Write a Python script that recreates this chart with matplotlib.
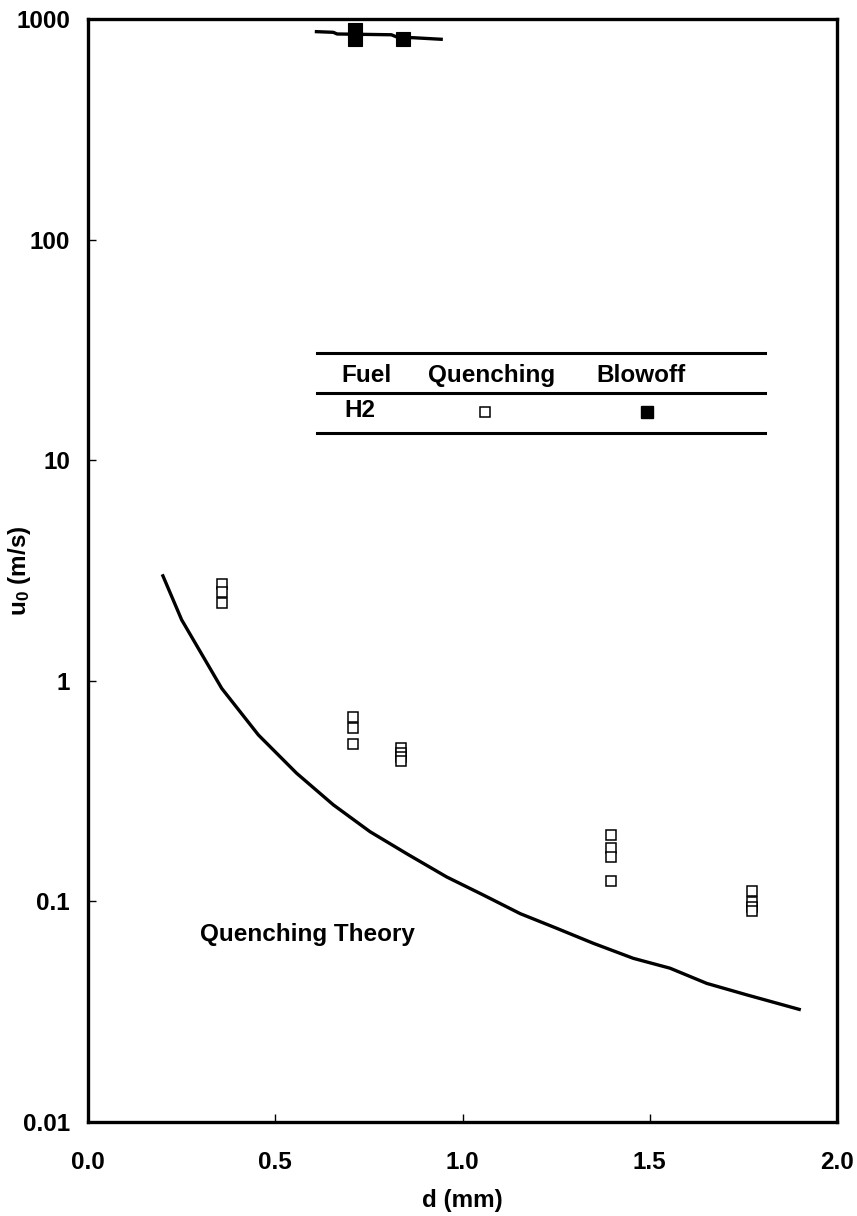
import numpy as np
import matplotlib
matplotlib.use('Agg')
import matplotlib.pyplot as plt

plt.rcParams['font.family'] = ['Liberation Sans', 'DejaVu Sans']
plt.rcParams['font.weight'] = 'bold'
plt.rcParams['mathtext.fontset'] = 'custom'
plt.rcParams['mathtext.rm'] = 'Liberation Sans:bold'
plt.rcParams['mathtext.it'] = 'Liberation Sans:bold'
plt.rcParams['mathtext.bf'] = 'Liberation Sans:bold'

FS = 17.5

# quenching theory curve
theory_d = [0.20, 0.25, 0.357, 0.455, 0.557, 0.655, 0.753, 0.855, 0.958, 1.055,
            1.154, 1.25, 1.349, 1.456, 1.554, 1.652, 1.759, 1.899]
theory_u = [2.99, 1.89, 0.924, 0.568, 0.381, 0.274, 0.207, 0.163, 0.129, 0.107,
            0.088, 0.0757, 0.0646, 0.0552, 0.0498, 0.0425, 0.0377, 0.0324]

# blowoff theory line (top)
blow_line_d = [0.61, 0.655, 0.665, 0.81, 0.825, 0.87, 0.943]
blow_line_u = [876, 870, 855, 848, 828, 822, 809]

# quenching data (open squares)
quench_d = [0.357, 0.357, 0.357,
            0.708, 0.708, 0.708,
            0.835, 0.835, 0.835, 0.835,
            1.396, 1.396, 1.396, 1.396,
            1.773, 1.773, 1.773, 1.773]
quench_u = [2.76, 2.53, 2.26,
            0.685, 0.611, 0.517,
            0.497, 0.472, 0.452, 0.435,
            0.200, 0.175, 0.159, 0.124,
            0.112, 0.099, 0.094, 0.090]

# blowoff data (filled squares)
blow_d = [0.713, 0.713, 0.841]
blow_u = [887, 811, 812]

fig = plt.figure(figsize=(8.57, 12.16), dpi=100)
ax = fig.add_axes([0.1027, 0.0773, 0.874, 0.9071])

ax.plot(theory_d, theory_u, color='black', lw=2.4, solid_joinstyle='round')
ax.plot(blow_line_d, blow_line_u, color='black', lw=2.4)
ax.plot(quench_d, quench_u, ls='none', marker='s', ms=7.5, mfc='white',
        mec='black', mew=1.1)
ax.plot(blow_d, blow_u, ls='none', marker='s', ms=9.5, mfc='black',
        mec='black', mew=0.8)

ax.text(0.30, 0.0705, 'Quenching Theory', fontsize=FS, fontweight='bold',
        ha='left', va='center')

# legend table
for yl in [0.697, 0.661, 0.625]:
    ax.plot([0.306, 0.904], [yl, yl], transform=ax.transAxes, color='black',
            lw=2.2, clip_on=False)
hdr = ['Fuel', 'Quenching', 'Blowoff']
hdr_x = [0.372, 0.539, 0.738]
for t, xx in zip(hdr, hdr_x):
    ax.text(xx, 0.677, t, transform=ax.transAxes, fontsize=FS,
            fontweight='bold', ha='center', va='center')
ax.text(0.363, 0.645, 'H2', transform=ax.transAxes, fontsize=FS,
        fontweight='bold', ha='center', va='center')
ax.plot([0.530], [0.644], transform=ax.transAxes, marker='s', ms=7.5,
        mfc='white', mec='black', mew=1.1, ls='none')
ax.plot([0.746], [0.644], transform=ax.transAxes, marker='s', ms=8.5,
        mfc='black', mec='black', ls='none')

ax.set_yscale('log')
ax.set_xlim(0, 2.0)
ax.set_ylim(0.01, 1000)
ax.set_xticks([0.0, 0.5, 1.0, 1.5, 2.0])
ax.set_xticklabels(['0.0', '0.5', '1.0', '1.5', '2.0'])
ax.set_yticks([0.01, 0.1, 1, 10, 100, 1000])
ax.set_yticklabels(['0.01', '0.1', '1', '10', '100', '1000'])
ax.minorticks_off()
ax.tick_params(axis='both', direction='in', length=6, width=1,
               labelsize=FS)
ax.tick_params(axis='x', pad=21)
ax.tick_params(axis='y', pad=13)
for s in ax.spines.values():
    s.set_linewidth(2.4)

ax.set_xlabel('d (mm)', fontsize=FS, fontweight='bold')
ax.set_ylabel(r'u$_0$ (m/s)', fontsize=FS, fontweight='bold')
ax.xaxis.set_label_coords(0.5, -0.061)
ax.yaxis.set_label_coords(-0.074, 0.5)

fig.savefig('out.png', dpi=100)
